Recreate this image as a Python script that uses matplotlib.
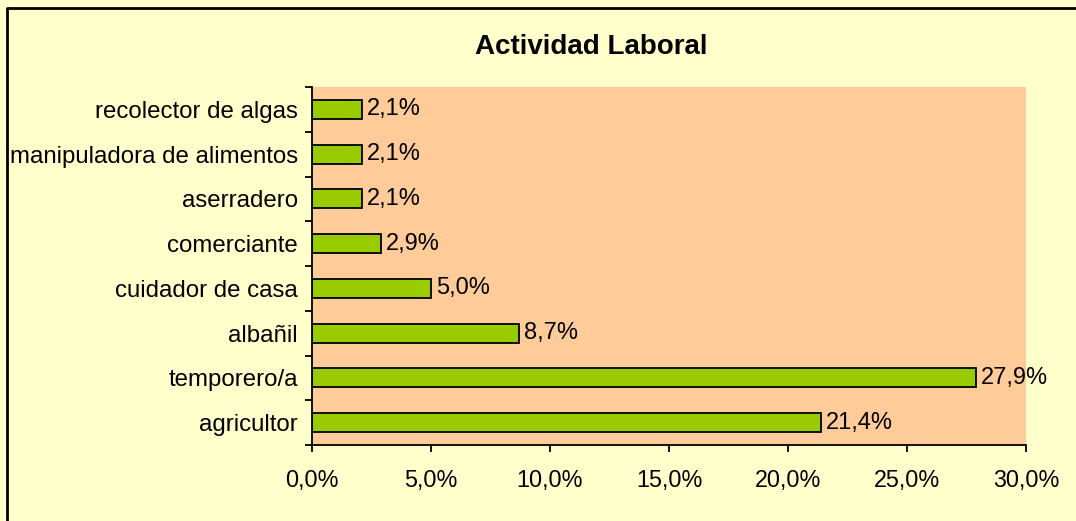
import matplotlib
matplotlib.use("Agg")
import matplotlib.pyplot as plt
from matplotlib.ticker import FuncFormatter
from matplotlib.lines import Line2D

categories = ["agricultor", "temporero/a", "albañil", "cuidador de casa",
              "comerciante", "aserradero", "manipuladora de alimentos",
              "recolector de algas"]
values = [21.4, 27.9, 8.7, 5.0, 2.9, 2.1, 2.1, 2.1]
xticks = [0, 5, 10, 15, 20, 25, 30]

plt.rcParams['font.family'] = ['Liberation Sans', 'DejaVu Sans']

W, H = 1076, 521
fig = plt.figure(figsize=(W / 100, H / 100), dpi=100)
fig.patch.set_facecolor('#FFFFCC')
ax = fig.add_axes([312 / W, 1 - 445 / H, (1026 - 312) / W, (445 - 87) / H])
ax.set_facecolor('#FFCC99')

ypos = range(len(categories))
ax.barh(ypos, values, height=0.42, color='#99CC00', edgecolor='black', linewidth=1.3)
for y, v in zip(ypos, values):
    ax.text(v + 0.2, y, f"{v:.1f}%".replace('.', ','), va='center', ha='left', fontsize=17)

ax.set_xlim(0, 30)
ax.set_ylim(-0.5, len(categories) - 0.5)
ax.set_xticks(xticks)
ax.xaxis.set_major_formatter(FuncFormatter(lambda x, p: f"{x:.1f}%".replace('.', ',')))
ax.tick_params(axis='x', labelsize=16.8, length=5, width=1.3, pad=12)

# category labels centred on bars, ticks between categories
ax.set_yticks([i - 0.5 for i in range(len(categories) + 1)])
ax.set_yticklabels([])
ax.set_yticks(list(ypos), minor=True)
ax.set_yticklabels(categories, minor=True, fontsize=17.3)
ax.tick_params(axis='y', which='major', length=5, width=1.3)
ax.tick_params(axis='y', which='minor', length=0, pad=10)

for s in ['top', 'right']:
    ax.spines[s].set_visible(False)
for s in ['left', 'bottom']:
    ax.spines[s].set_linewidth(1.3)

fig.text(591.5 / W, 1 - 47 / H, "Actividad Laboral", ha='center', va='center',
         fontsize=20, fontweight='bold')

# outer chart frame (cropped on the right and bottom)
fig.add_artist(Line2D([7 / W, 7 / W, 1.0], [0.0, 1 - 8 / H, 1 - 8 / H],
                      transform=fig.transFigure, color='black', linewidth=2))

fig.savefig('out.png', dpi=100, facecolor=fig.get_facecolor())
